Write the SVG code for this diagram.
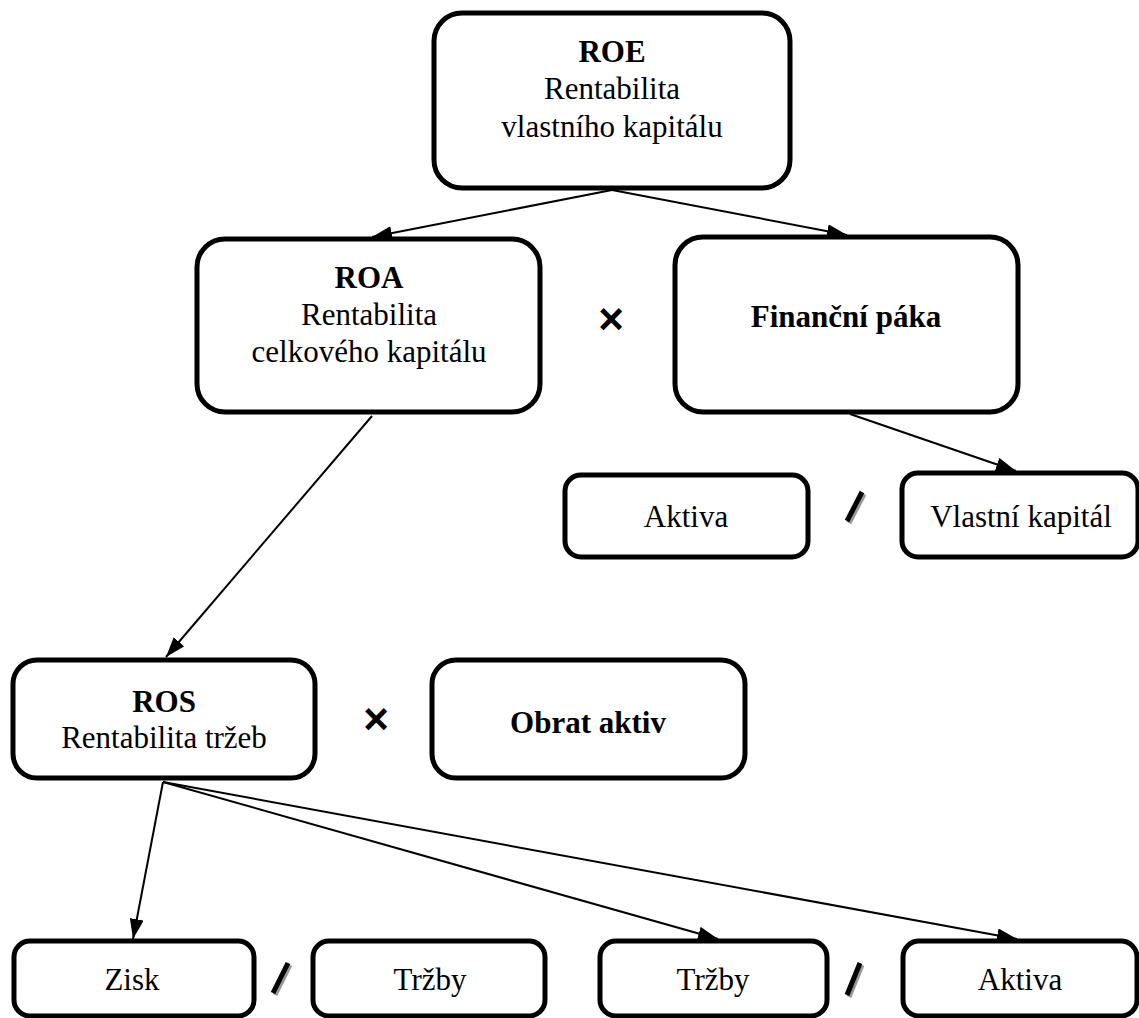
<svg xmlns="http://www.w3.org/2000/svg" width="1139" height="1018" viewBox="0 0 1139 1018">
<defs>
<marker id="arr" viewBox="0 0 20 14" refX="20" refY="7" markerWidth="20" markerHeight="14" markerUnits="userSpaceOnUse" orient="auto">
<path d="M0,0 L20,7 L0,14 Z" fill="#000"/>
</marker>
</defs>
<style>
.box{fill:#fff;stroke:#000;stroke-width:5}
.t{font-family:"Liberation Serif","Times New Roman",serif;font-size:31px;fill:#000;text-anchor:middle}
.b{font-weight:bold}
.c{stroke:#000;stroke-width:2;fill:none;marker-end:url(#arr)}
.op{font-family:"Liberation Sans",Arial,sans-serif;font-weight:bold;font-size:44px;text-anchor:middle;fill:#000}
.sl{stroke:#000;stroke-width:5;stroke-linecap:butt}
.sh{stroke:#999;stroke-width:5}
</style>
<rect width="1139" height="1018" fill="#fff"/>
<g id="connectors">
<line class="c" x1="612" y1="190" x2="372" y2="237"/>
<line class="c" x1="612" y1="190" x2="847" y2="235"/>
<line class="c" x1="850" y1="414" x2="1016" y2="471"/>
<line class="c" x1="372" y1="416" x2="166" y2="657"/>
<line class="c" x1="163" y1="782" x2="133" y2="939"/>
<line class="c" x1="163" y1="782" x2="718" y2="939"/>
<line class="c" x1="163" y1="782" x2="1017" y2="939"/>
</g>
<g id="roe"><rect class="box" x="434" y="13" width="356" height="175" rx="28"/>
<text class="t b" x="612" y="62">ROE</text>
<text class="t" x="612" y="99">Rentabilita</text>
<text class="t" x="612" y="137">vlastního kapitálu</text></g>
<g id="roa"><rect class="box" x="197" y="239" width="343" height="173" rx="28"/>
<text class="t b" x="369" y="288">ROA</text>
<text class="t" x="369" y="325">Rentabilita</text>
<text class="t" x="369" y="362">celkového kapitálu</text></g>
<g id="times1"><text class="op" x="611" y="334">×</text></g>
<g id="fp"><rect class="box" x="675" y="237" width="343" height="175" rx="28"/>
<text class="t b" x="846" y="327">Finanční páka</text></g>
<g id="aktiva1"><rect class="box" x="565" y="475" width="243" height="82" rx="16"/>
<text class="t" x="686" y="527">Aktiva</text></g>
<g id="div1"><line class="sh" x1="864" y1="494" x2="849" y2="523"/><line class="sl" x1="862" y1="492" x2="847" y2="521"/></g>
<g id="vk"><rect class="box" x="902" y="473" width="236" height="84" rx="16"/>
<text class="t" x="1021" y="527">Vlastní kapitál</text></g>
<g id="ros"><rect class="box" x="13" y="660" width="302" height="118" rx="24"/>
<text class="t b" x="164" y="712">ROS</text>
<text class="t" x="164" y="748">Rentabilita tržeb</text></g>
<g id="times2"><text class="op" x="376" y="734">×</text></g>
<g id="obrat"><rect class="box" x="432" y="660" width="313" height="118" rx="24"/>
<text class="t b" x="588" y="733">Obrat aktiv</text></g>
<g id="zisk"><rect class="box" x="14" y="941" width="240" height="75" rx="16"/>
<text class="t" x="132" y="990">Zisk</text></g>
<g id="div2"><line class="sh" x1="290" y1="965" x2="275" y2="995"/><line class="sl" x1="288" y1="963" x2="273" y2="993"/></g>
<g id="trzby1"><rect class="box" x="313" y="941" width="232" height="75" rx="16"/>
<text class="t" x="430" y="990">Tržby</text></g>
<g id="trzby2"><rect class="box" x="600" y="941" width="227" height="75" rx="16"/>
<text class="t" x="713" y="990">Tržby</text></g>
<g id="div3"><line class="sh" x1="862" y1="965" x2="849" y2="997"/><line class="sl" x1="860" y1="963" x2="847" y2="995"/></g>
<g id="aktiva2"><rect class="box" x="903" y="941" width="234" height="75" rx="16"/>
<text class="t" x="1020" y="990">Aktiva</text></g>
</svg>
